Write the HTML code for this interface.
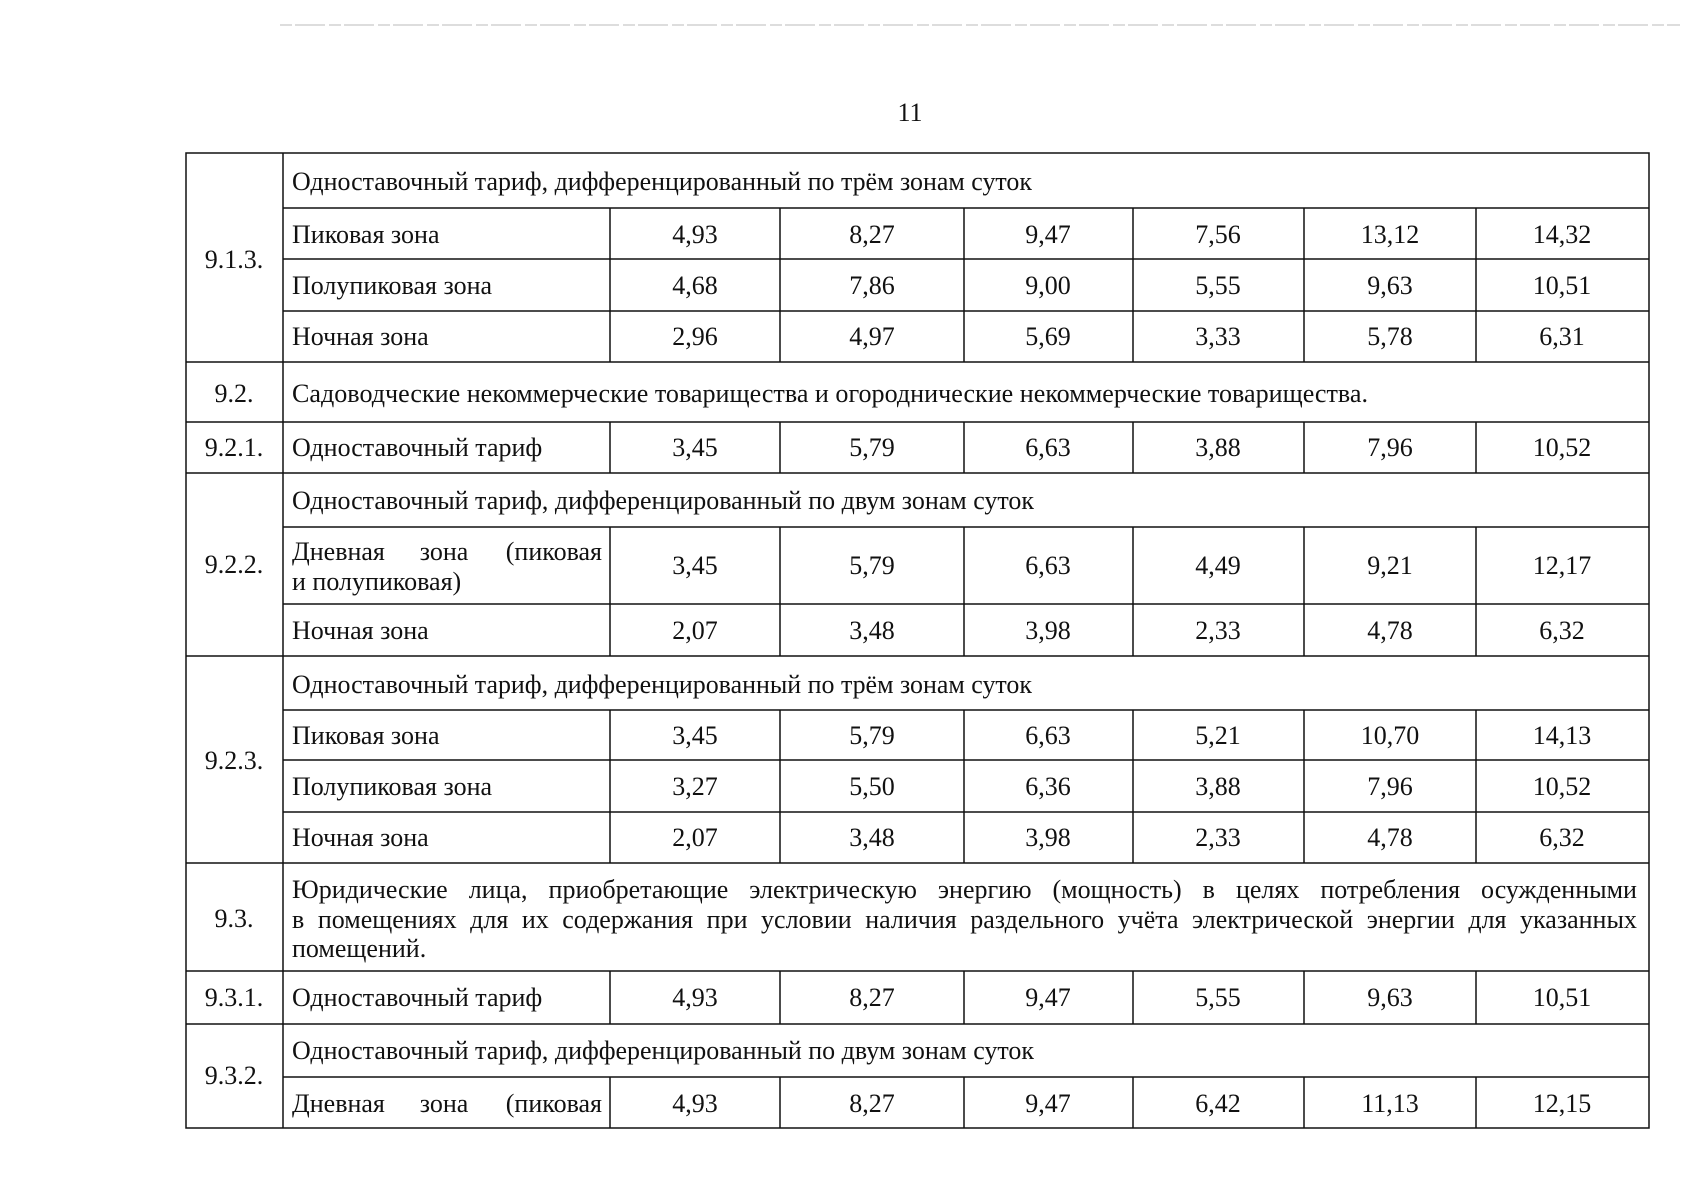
<!DOCTYPE html>
<html><head><meta charset="utf-8"><style>
html,body{margin:0;padding:0;background:#fff;}
svg{display:block;}
text{font-family:"Liberation Serif",serif;font-size:26px;fill:#111;}
.c{text-anchor:middle;}
.e{text-anchor:end;}
</style></head><body>
<svg width="1695" height="1200" viewBox="0 0 1695 1200" xmlns="http://www.w3.org/2000/svg">
<line x1="280" y1="25" x2="1680" y2="25" stroke="#bbb" stroke-width="1" stroke-dasharray="12 3 30 4"/>
<text x="910" y="121" class="c">11</text>
<g stroke="#111" stroke-width="1.5" fill="none">
<rect x="186" y="153" width="1463" height="975"/>
<line x1="283" y1="153" x2="283" y2="1128"/>
<line x1="186" y1="362" x2="1649" y2="362"/>
<line x1="186" y1="422" x2="1649" y2="422"/>
<line x1="186" y1="473" x2="1649" y2="473"/>
<line x1="186" y1="656" x2="1649" y2="656"/>
<line x1="186" y1="863" x2="1649" y2="863"/>
<line x1="186" y1="971" x2="1649" y2="971"/>
<line x1="186" y1="1024" x2="1649" y2="1024"/>
<line x1="283" y1="208" x2="1649" y2="208"/>
<line x1="283" y1="259" x2="1649" y2="259"/>
<line x1="283" y1="311" x2="1649" y2="311"/>
<line x1="283" y1="527" x2="1649" y2="527"/>
<line x1="283" y1="604" x2="1649" y2="604"/>
<line x1="283" y1="710" x2="1649" y2="710"/>
<line x1="283" y1="760" x2="1649" y2="760"/>
<line x1="283" y1="812" x2="1649" y2="812"/>
<line x1="283" y1="1077" x2="1649" y2="1077"/>
<line x1="610" y1="208" x2="610" y2="362"/><line x1="780" y1="208" x2="780" y2="362"/><line x1="964" y1="208" x2="964" y2="362"/><line x1="1133" y1="208" x2="1133" y2="362"/><line x1="1304" y1="208" x2="1304" y2="362"/><line x1="1476" y1="208" x2="1476" y2="362"/>
<line x1="610" y1="422" x2="610" y2="473"/><line x1="780" y1="422" x2="780" y2="473"/><line x1="964" y1="422" x2="964" y2="473"/><line x1="1133" y1="422" x2="1133" y2="473"/><line x1="1304" y1="422" x2="1304" y2="473"/><line x1="1476" y1="422" x2="1476" y2="473"/>
<line x1="610" y1="527" x2="610" y2="656"/><line x1="780" y1="527" x2="780" y2="656"/><line x1="964" y1="527" x2="964" y2="656"/><line x1="1133" y1="527" x2="1133" y2="656"/><line x1="1304" y1="527" x2="1304" y2="656"/><line x1="1476" y1="527" x2="1476" y2="656"/>
<line x1="610" y1="710" x2="610" y2="863"/><line x1="780" y1="710" x2="780" y2="863"/><line x1="964" y1="710" x2="964" y2="863"/><line x1="1133" y1="710" x2="1133" y2="863"/><line x1="1304" y1="710" x2="1304" y2="863"/><line x1="1476" y1="710" x2="1476" y2="863"/>
<line x1="610" y1="971" x2="610" y2="1024"/><line x1="780" y1="971" x2="780" y2="1024"/><line x1="964" y1="971" x2="964" y2="1024"/><line x1="1133" y1="971" x2="1133" y2="1024"/><line x1="1304" y1="971" x2="1304" y2="1024"/><line x1="1476" y1="971" x2="1476" y2="1024"/>
<line x1="610" y1="1077" x2="610" y2="1128"/><line x1="780" y1="1077" x2="780" y2="1128"/><line x1="964" y1="1077" x2="964" y2="1128"/><line x1="1133" y1="1077" x2="1133" y2="1128"/><line x1="1304" y1="1077" x2="1304" y2="1128"/><line x1="1476" y1="1077" x2="1476" y2="1128"/>
</g>
<text x="234" y="268" class="c">9.1.3.</text>
<text x="234" y="402" class="c">9.2.</text>
<text x="234" y="456" class="c">9.2.1.</text>
<text x="234" y="573" class="c">9.2.2.</text>
<text x="234" y="769" class="c">9.2.3.</text>
<text x="234" y="927" class="c">9.3.</text>
<text x="234" y="1006" class="c">9.3.1.</text>
<text x="234" y="1084" class="c">9.3.2.</text>

<text x="292" y="190" textLength="740" lengthAdjust="spacingAndGlyphs">Одноставочный тариф, дифференцированный по трём зонам суток</text>
<text x="292" y="243">Пиковая зона</text>
<text x="292" y="294">Полупиковая зона</text>
<text x="292" y="345">Ночная зона</text>
<text x="292" y="402" textLength="1076" lengthAdjust="spacingAndGlyphs">Садоводческие некоммерческие товарищества и огороднические некоммерческие товарищества.</text>
<text x="292" y="456">Одноставочный тариф</text>
<text x="292" y="509" textLength="742" lengthAdjust="spacingAndGlyphs">Одноставочный тариф, дифференцированный по двум зонам суток</text>
<text x="292" y="560">Дневная</text><text x="444" y="560" class="c">зона</text><text x="602" y="560" class="e">(пиковая</text>
<text x="292" y="590">и полупиковая)</text>
<text x="292" y="639">Ночная зона</text>
<text x="292" y="693" textLength="740" lengthAdjust="spacingAndGlyphs">Одноставочный тариф, дифференцированный по трём зонам суток</text>
<text x="292" y="744">Пиковая зона</text>
<text x="292" y="795">Полупиковая зона</text>
<text x="292" y="846">Ночная зона</text>
<text class="j" x="292" y="898" data-w="1345" word-spacing="12">Юридические лица, приобретающие электрическую энергию (мощность) в целях потребления осужденными</text>
<text class="j" x="292" y="928" data-w="1345" word-spacing="8">в помещениях для их содержания при условии наличия раздельного учёта электрической энергии для указанных</text>
<text x="292" y="957">помещений.</text>
<text x="292" y="1006">Одноставочный тариф</text>
<text x="292" y="1059" textLength="742" lengthAdjust="spacingAndGlyphs">Одноставочный тариф, дифференцированный по двум зонам суток</text>
<text x="292" y="1112">Дневная</text><text x="444" y="1112" class="c">зона</text><text x="602" y="1112" class="e">(пиковая</text>

<text x="695" y="243" class="c">4,93</text><text x="872" y="243" class="c">8,27</text><text x="1048" y="243" class="c">9,47</text><text x="1218" y="243" class="c">7,56</text><text x="1390" y="243" class="c">13,12</text><text x="1562" y="243" class="c">14,32</text>
<text x="695" y="294" class="c">4,68</text><text x="872" y="294" class="c">7,86</text><text x="1048" y="294" class="c">9,00</text><text x="1218" y="294" class="c">5,55</text><text x="1390" y="294" class="c">9,63</text><text x="1562" y="294" class="c">10,51</text>
<text x="695" y="345" class="c">2,96</text><text x="872" y="345" class="c">4,97</text><text x="1048" y="345" class="c">5,69</text><text x="1218" y="345" class="c">3,33</text><text x="1390" y="345" class="c">5,78</text><text x="1562" y="345" class="c">6,31</text>
<text x="695" y="456" class="c">3,45</text><text x="872" y="456" class="c">5,79</text><text x="1048" y="456" class="c">6,63</text><text x="1218" y="456" class="c">3,88</text><text x="1390" y="456" class="c">7,96</text><text x="1562" y="456" class="c">10,52</text>
<text x="695" y="574" class="c">3,45</text><text x="872" y="574" class="c">5,79</text><text x="1048" y="574" class="c">6,63</text><text x="1218" y="574" class="c">4,49</text><text x="1390" y="574" class="c">9,21</text><text x="1562" y="574" class="c">12,17</text>
<text x="695" y="639" class="c">2,07</text><text x="872" y="639" class="c">3,48</text><text x="1048" y="639" class="c">3,98</text><text x="1218" y="639" class="c">2,33</text><text x="1390" y="639" class="c">4,78</text><text x="1562" y="639" class="c">6,32</text>
<text x="695" y="744" class="c">3,45</text><text x="872" y="744" class="c">5,79</text><text x="1048" y="744" class="c">6,63</text><text x="1218" y="744" class="c">5,21</text><text x="1390" y="744" class="c">10,70</text><text x="1562" y="744" class="c">14,13</text>
<text x="695" y="795" class="c">3,27</text><text x="872" y="795" class="c">5,50</text><text x="1048" y="795" class="c">6,36</text><text x="1218" y="795" class="c">3,88</text><text x="1390" y="795" class="c">7,96</text><text x="1562" y="795" class="c">10,52</text>
<text x="695" y="846" class="c">2,07</text><text x="872" y="846" class="c">3,48</text><text x="1048" y="846" class="c">3,98</text><text x="1218" y="846" class="c">2,33</text><text x="1390" y="846" class="c">4,78</text><text x="1562" y="846" class="c">6,32</text>
<text x="695" y="1006" class="c">4,93</text><text x="872" y="1006" class="c">8,27</text><text x="1048" y="1006" class="c">9,47</text><text x="1218" y="1006" class="c">5,55</text><text x="1390" y="1006" class="c">9,63</text><text x="1562" y="1006" class="c">10,51</text>
<text x="695" y="1112" class="c">4,93</text><text x="872" y="1112" class="c">8,27</text><text x="1048" y="1112" class="c">9,47</text><text x="1218" y="1112" class="c">6,42</text><text x="1390" y="1112" class="c">11,13</text><text x="1562" y="1112" class="c">12,15</text>
</svg>
<script>
document.querySelectorAll('text.j').forEach(function(t){
  t.setAttribute('word-spacing','0');
  var w=t.getComputedTextLength();
  var target=+t.getAttribute('data-w');
  var n=(t.textContent.match(/ /g)||[]).length;
  if(n>0&&w<target){t.setAttribute('word-spacing',((target-w)/n).toFixed(2));}
});
</script>
</body></html>
